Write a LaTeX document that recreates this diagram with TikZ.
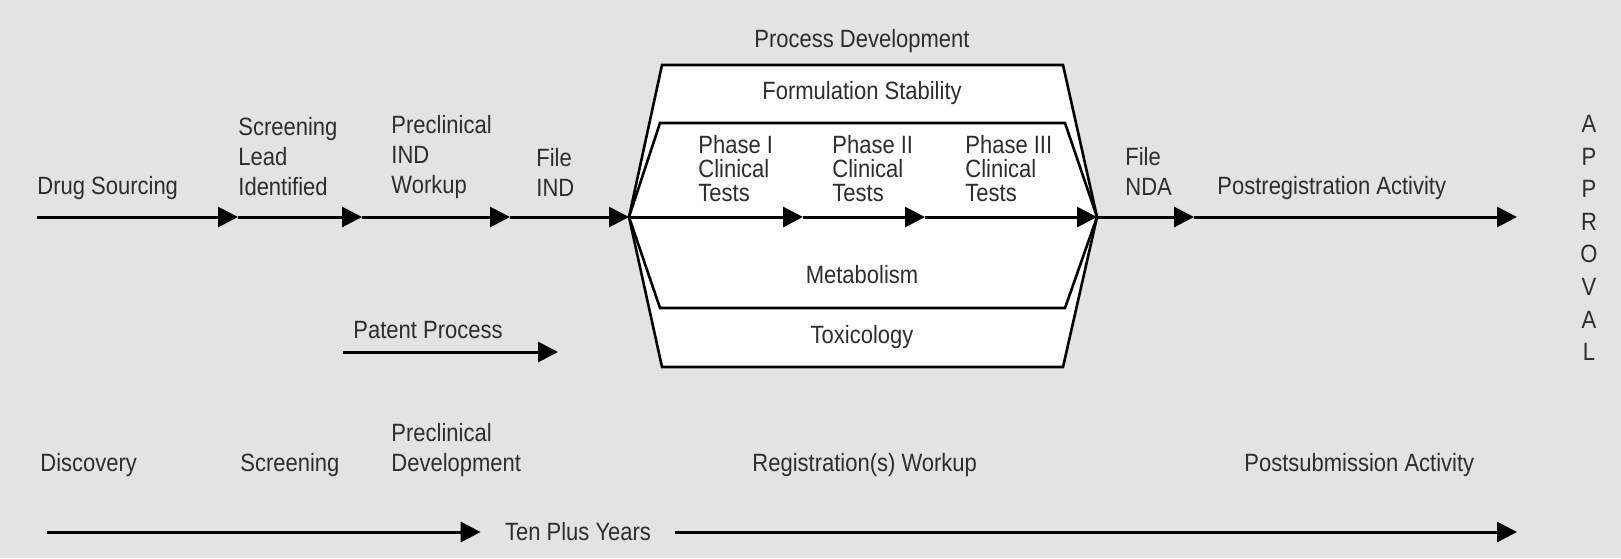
\documentclass[tikz,border=0pt]{standalone}
\usepackage{fontspec}
\setmainfont{Liberation Sans}[FakeStretch=0.88]
\usepackage{tikz}
\usetikzlibrary{arrows.meta, positioning}
\definecolor{bggray}{RGB}{227,227,227}
\definecolor{inkgray}{RGB}{45,45,45}

\begin{document}
\begin{tikzpicture}[
    x=0.5pt, y=-0.5pt,
    lbl/.style={font=\fontsize{12.5}{15}\selectfont, text=inkgray, align=left, inner sep=0pt, anchor=west},
    phase/.style={lbl, font=\fontsize{12.5}{12}\selectfont},
    arrow/.style={-{Triangle[length=10pt, width=10pt]}, line width=1.5pt},
    hexa/.style={line width=1.3pt, fill=white}
]
\useasboundingbox (0,0) rectangle (1621,558);
\fill[bggray] (0,0) rectangle (1621,558);

% Hexagon (Registration workup)
\coordinate (hl) at (629,217);
\coordinate (hr) at (1097,217);
\draw[hexa] (hl) -- (662,65) -- (1063,65) -- (hr) -- (1063,367) -- (662,367) -- cycle;
\draw[hexa] (hl) -- (660,123) -- (1065,123) -- (hr) -- (1065,308) -- (660,308) -- cycle;

% Main line
\coordinate (start) at (37,217);
\coordinate (m1) at (238,217);
\coordinate (m2) at (362,217);
\coordinate (m3) at (510,217);
\coordinate (m4) at (803,217);
\coordinate (m5) at (925,217);
\coordinate (m6) at (1194,217);
\coordinate (stop) at (1517,217);
\draw [arrow] (start) -- (m1);
\draw [arrow] (m1) -- (m2);
\draw [arrow] (m2) -- (m3);
\draw [arrow] (m3) -- (hl);
\draw [arrow] (hl) -- (m4);
\draw [arrow] (m4) -- (m5);
\draw [arrow] (m5) -- (hr);
\draw [arrow] (hr) -- (m6);
\draw [arrow] (m6) -- (stop);

% Labels (main line)
\node[lbl] (sourcing) at (37,188) {Drug Sourcing};
\node[lbl] (lead) at (238,157) {Screening\\Lead\\Identified};
\node[lbl] (ind) at (391,157) {Preclinical\\IND\\Workup};
\node[lbl] (fileind) at (536,172) {File\\IND};
\node[phase] (phase1) at (698,169) {Phase I\\Clinical\\Tests};
\node[phase] (phase2) at (832,169) {Phase II\\Clinical\\Tests};
\node[phase] (phase3) at (965,169) {Phase III\\Clinical\\Tests};
\node[lbl] (filenda) at (1125,171) {File\\NDA};
\node[lbl] (postreg) at (1217,188) {Postregistration Activity};

% Labels (hexagon)
\node[lbl, anchor=center] (procdev) at (862,41) {Process Development};
\node[lbl, anchor=center] (formul) at (862,93) {Formulation Stability};
\node[lbl, anchor=center] (metab) at (862,275) {Metabolism};
\node[lbl, anchor=center] (toxic) at (862,337) {Toxicology};

% Patent process
\node[lbl] (patent) at (353,330) {Patent Process};
\coordinate (pat0) at (343,352);
\coordinate (pat1) at (558,352);
\draw [arrow] (pat0) -- (pat1);

% Approval
\node[lbl, anchor=center, align=center, font=\fontsize{12.5}{16.3}\selectfont] (approval) at (1589,238) {A\\P\\P\\R\\O\\V\\A\\L};

% Stages
\node[lbl] (discovery) at (40,465) {Discovery};
\node[lbl] (screening) at (240,465) {Screening};
\node[lbl] (precdev) at (391,450) {Preclinical\\Development};
\node[lbl] (regwork) at (752,465) {Registration(s) Workup};
\node[lbl] (postsub) at (1244,465) {Postsubmission Activity};

% Time line
\coordinate (t0) at (47,532);
\coordinate (t1) at (1517,532);
\node[lbl, anchor=center, inner xsep=12pt] (years) at (578,532) {Ten Plus Years};
\draw [arrow] (t0) -- (years.west);
\draw [arrow] (years.east) -- (t1);

\end{tikzpicture}
\end{document}
